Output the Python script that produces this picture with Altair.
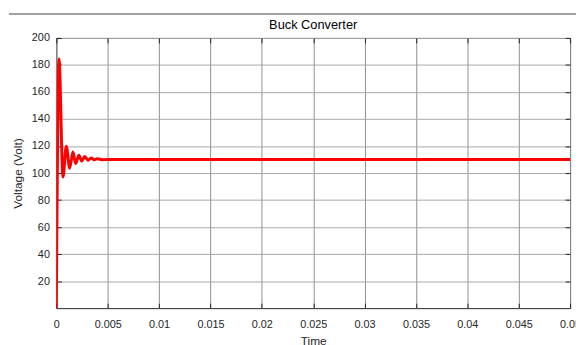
import altair as alt
import pandas as pd

# Values
time_s = [0, 0.00026, 0.00065, 0.00097, 0.0013, 0.00162, 0.00188, 0.0022,
          0.00247, 0.00276, 0.0031, 0.0034, 0.0037, 0.004, 0.0045, 0.005, 0.05]
voltage_v = [0, 184.5, 97, 119.8, 103.5, 115.6, 107, 113.2,
             108.9, 112.2, 109.5, 111.2, 109.8, 110.6, 109.9, 110, 110]

x_ticks = [0, 0.005, 0.01, 0.015, 0.02, 0.025, 0.03, 0.035, 0.04, 0.045, 0.05]
y_ticks = [20, 40, 60, 80, 100, 120, 140, 160, 180, 200]

df = pd.DataFrame({"t": time_s, "v": voltage_v})

W, H = 521, 274
FONT = "Liberation Sans"
TXT = "#262626"

xs = alt.Scale(domain=[0, 0.05], nice=False, zero=False)
ys = alt.Scale(domain=[0, 200], nice=False, zero=False)

main = alt.Chart(df).mark_line(
    color="#ff0000", strokeWidth=3, interpolate="monotone", clip=True
).encode(
    x=alt.X("t:Q", scale=xs, axis=alt.Axis(
        values=x_ticks, format="~g", title="Time", grid=True,
        gridColor="#8f8f8f", gridWidth=1, ticks=False, domain=False,
        labelPadding=11, labelFontSize=11, labelColor=TXT, labelFont=FONT,
        labelFlush=False, titleFontSize=12, titleColor=TXT, titleFont=FONT,
        titleFontWeight="normal", titlePadding=6)),
    y=alt.Y("v:Q", scale=ys, axis=alt.Axis(
        values=y_ticks, title="Voltage (Volt)", grid=True,
        gridColor="#a8a8a8", gridWidth=1, ticks=False, domain=False,
        labelPadding=7, labelFontSize=11, labelColor=TXT, labelFont=FONT,
        titleFontSize=12, titleColor=TXT, titleFont=FONT,
        titleFontWeight="normal", titlePadding=7)),
)


def tick_layer(xorient, yorient):
    return alt.Chart(df).mark_line(opacity=0).encode(
        x=alt.X("t:Q", scale=xs, axis=alt.Axis(
            orient=xorient, offset=-5, values=x_ticks, labels=False, grid=False,
            domain=False, ticks=True, tickSize=5, tickColor=TXT, title=None)),
        y=alt.Y("v:Q", scale=ys, axis=alt.Axis(
            orient=yorient, offset=-5, values=y_ticks, labels=False, grid=False,
            domain=False, ticks=True, tickSize=5, tickColor=TXT, title=None)),
    )


top_line = alt.Chart(df).mark_rule(color="#a0a0a0", strokeWidth=1, clip=False).encode(
    x=alt.value(-48), x2=alt.value(W + 8), y=alt.value(-24)
)

chart = alt.layer(
    main, tick_layer("bottom", "left"), tick_layer("top", "right"), top_line
).resolve_axis(
    x="independent", y="independent"
).properties(
    width=W, height=H,
    title=alt.Title("Buck Converter", fontSize=13, fontWeight="normal",
                    font=FONT, color="#000000", anchor="middle", offset=-18,
                    frame="group"),
    padding={"left": 49, "top": 28, "right": 6, "bottom": 35},
    autosize="none",
).configure_view(stroke=TXT, strokeWidth=1)

chart.save("out.html", embed_options={"renderer": "svg", "actions": False})
